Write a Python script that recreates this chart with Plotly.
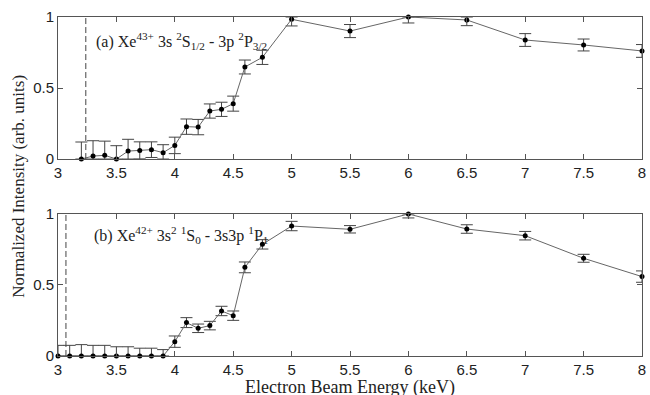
import plotly.graph_objects as go

# ---- data: panel (a) Xe43+ ----
energy_a = [3.2, 3.3, 3.4, 3.5, 3.6, 3.7, 3.8, 3.9, 4.0, 4.1, 4.2, 4.3, 4.4, 4.5,
            4.6, 4.75, 5.0, 5.5, 6.0, 6.5, 7.0, 7.5, 8.0]
intensity_a = [0.0, 0.021, 0.026, 0.0, 0.056, 0.061, 0.066, 0.045, 0.096, 0.228, 0.225,
               0.338, 0.35, 0.39, 0.648, 0.716, 0.984, 0.901, 1.0, 0.979, 0.838, 0.803, 0.761]
error_a = [0.12, 0.108, 0.10, 0.094, 0.083, 0.06, 0.055, 0.056, 0.058, 0.054, 0.054,
           0.05, 0.05, 0.053, 0.049, 0.05, 0.047, 0.046, 0.042, 0.04, 0.045, 0.042, 0.045]
threshold_a = 3.238

# ---- data: panel (b) Xe42+ ----
energy_b = [3.0, 3.1, 3.2, 3.3, 3.4, 3.5, 3.6, 3.7, 3.8, 3.9, 4.0, 4.1, 4.2, 4.3, 4.4,
            4.5, 4.6, 4.75, 5.0, 5.5, 6.0, 6.5, 7.0, 7.5, 8.0]
intensity_b = [0, 0, 0, 0, 0, 0, 0, 0, 0, 0, 0.101, 0.235, 0.195, 0.214, 0.317,
               0.284, 0.624, 0.786, 0.915, 0.892, 1.0, 0.894, 0.847, 0.688, 0.559]
error_b = [0.075, 0.075, 0.08, 0.075, 0.075, 0.065, 0.065, 0.055, 0.055, 0.045, 0.04,
           0.035, 0.03, 0.03, 0.033, 0.033, 0.038, 0.033, 0.033, 0.026, 0.028, 0.03,
           0.03, 0.028, 0.04]
threshold_b = 3.068

x_ticks = [3, 3.5, 4, 4.5, 5, 5.5, 6, 6.5, 7, 7.5, 8]
x_ticktext = ["3", "3.5", "4", "4.5", "5", "5.5", "6", "6.5", "7", "7.5", "8"]
y_ticks = [0, 0.5, 1]
y_ticktext = ["0", "0.5", "1"]

label_a = "(a) Xe<sup>43+</sup> 3s <sup>2</sup>S<sub>1/2</sub> - 3p <sup>2</sup>P<sub>3/2</sub>"
label_b = "(b) Xe<sup>42+</sup> 3s<sup>2</sup> <sup>1</sup>S<sub>0</sub> - 3s3p <sup>1</sup>P<sub>1</sub>"

LINE = "#555555"
SANS = "Liberation Sans"
SERIF = "Liberation Serif"

fig = go.Figure()


def add_panel(x, y, e, xa, ya):
    plus = [min(ei, 1 - yi) for yi, ei in zip(y, e)]
    minus = [min(ei, yi) for yi, ei in zip(y, e)]
    fig.add_trace(go.Scatter(
        x=x, y=y, mode="lines+markers", xaxis=xa, yaxis=ya,
        line=dict(color="#666666", width=1),
        marker=dict(color="black", size=5),
        error_y=dict(type="data", symmetric=False, array=plus, arrayminus=minus,
                     color="#444444", thickness=1, width=6),
        cliponaxis=False, showlegend=False))


add_panel(energy_a, intensity_a, error_a, "x", "y")
add_panel(energy_b, intensity_b, error_b, "x2", "y2")

for th, xa, ya in [(threshold_a, "x", "y"), (threshold_b, "x2", "y2")]:
    fig.add_trace(go.Scatter(x=[th, th], y=[0, 1], mode="lines", xaxis=xa, yaxis=ya,
                             line=dict(color="#444444", width=1, dash="6px,3px"),
                             showlegend=False, hoverinfo="skip"))

axis_common = dict(showline=True, linecolor=LINE, linewidth=1, mirror="ticks",
                   ticks="inside", ticklen=5, tickcolor=LINE, showgrid=False,
                   zeroline=False, ticklabeloverflow="allow",
                   tickfont=dict(family=SANS, size=15, color="#222222"))

fig.update_layout(
    width=650, height=395,
    margin=dict(l=58, r=4, t=17, b=39),
    paper_bgcolor="white", plot_bgcolor="white",
    xaxis=dict(domain=[0, 1], range=[3, 8], tickvals=x_ticks, ticktext=x_ticktext,
               anchor="y", **axis_common),
    yaxis=dict(domain=[0.581, 1], range=[0, 1], tickvals=y_ticks, ticktext=y_ticktext,
               anchor="x", **axis_common),
    xaxis2=dict(domain=[0, 1], range=[3, 8], tickvals=x_ticks, ticktext=x_ticktext,
                anchor="y2", **axis_common),
    yaxis2=dict(domain=[0, 0.419], range=[0, 1], tickvals=y_ticks, ticktext=y_ticktext,
                anchor="x2", **axis_common),
    annotations=[
        dict(text=label_a, xref="paper", yref="paper", x=0.062, y=0.93,
             xanchor="left", yanchor="middle", showarrow=False,
             font=dict(family=SERIF, size=16, color="#222222")),
        dict(text=label_b, xref="paper", yref="paper", x=0.059, y=0.358,
             xanchor="left", yanchor="middle", showarrow=False,
             font=dict(family=SERIF, size=16, color="#222222")),
        dict(text="Normalized Intensity (arb. units)", xref="paper", yref="paper",
             x=-0.068, y=0.5, xanchor="center", yanchor="middle", textangle=-90,
             showarrow=False, font=dict(family=SERIF, size=17, color="#222222")),
        dict(text="Electron Beam Energy (keV)", xref="paper", yref="paper",
             x=0.5, y=-0.056, xanchor="center", yanchor="top",
             showarrow=False, font=dict(family=SERIF, size=18, color="#222222")),
    ],
)

fig.write_html("out.html")
